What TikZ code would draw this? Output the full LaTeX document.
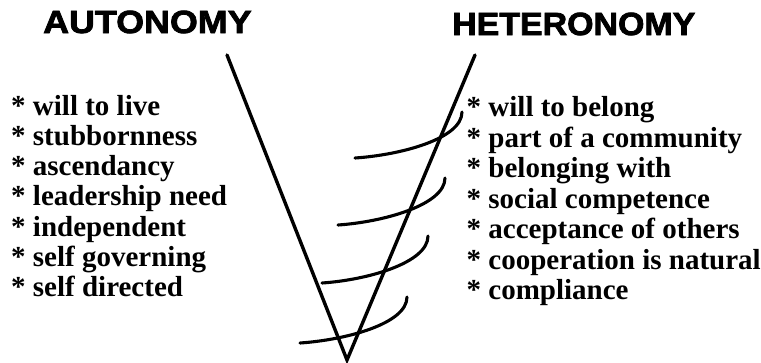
\documentclass[tikz,border=0pt]{standalone}
\usepackage{fontspec}
\setmainfont{Liberation Serif}
\newfontfamily\headfontA[FakeStretch=1.12,FakeBold=2.5]{Liberation Sans}
\newfontfamily\headfontB[FakeStretch=1.06,FakeBold=2.5]{Liberation Sans}
\usetikzlibrary{calc}
\tikzset{
  itemtext/.style={anchor=base west, inner sep=0pt, font=\fontsize{29}{30}\selectfont\bfseries},
  headtext/.style={anchor=base west, inner sep=0pt},
  vline/.style={line width=3.4pt, line join=miter, line cap=round},
  arcline/.style={line width=3.1pt, line cap=round}
}
\begin{document}
\begin{tikzpicture}[x=1pt,y=-1pt]
\useasboundingbox (0,0) rectangle (761,362);
% headings
\node[headtext, font=\headfontA\bfseries\fontsize{32}{34}\selectfont] (hauto) at (43,33) {AUTONOMY};
\node[headtext, font=\headfontB\bfseries\fontsize{32}{34}\selectfont] (hhet) at (452,35) {HETERONOMY};
% left list
\foreach \t [count=\i] in {will to live, stubbornness, ascendancy, leadership need, independent, self governing, self directed}{
  \node[itemtext] (L\i) at (11,{115+30.3*(\i-1)}) {* \t};
}
% right list
\foreach \t [count=\i] in {will to belong, part of a community, belonging with, social competence, acceptance of others, cooperation is natural, compliance}{
  \node[itemtext] (R\i) at (466.5,{116.7+30.5*(\i-1)}) {* \t};
}
% V
\coordinate (vtl) at (227,55);
\coordinate (vb) at (347,360);
\coordinate (vtr) at (475,55);
\draw[vline] (vtl) -- (vb) -- (vtr);
% arcs
\coordinate (a1l) at (355,158); \coordinate (a1r) at (462,112);
\coordinate (a2l) at (338,225); \coordinate (a2r) at (445,178);
\coordinate (a3l) at (322,283); \coordinate (a3r) at (428,236);
\coordinate (a4l) at (300,343); \coordinate (a4r) at (407,297);
\foreach \k in {1,2,3,4}{
  \draw[arcline] (a\k l) .. controls ($(a\k l)+(45,-3)$) and ($(a\k r)+(0,27)$) .. (a\k r);
}
\end{tikzpicture}
\end{document}
